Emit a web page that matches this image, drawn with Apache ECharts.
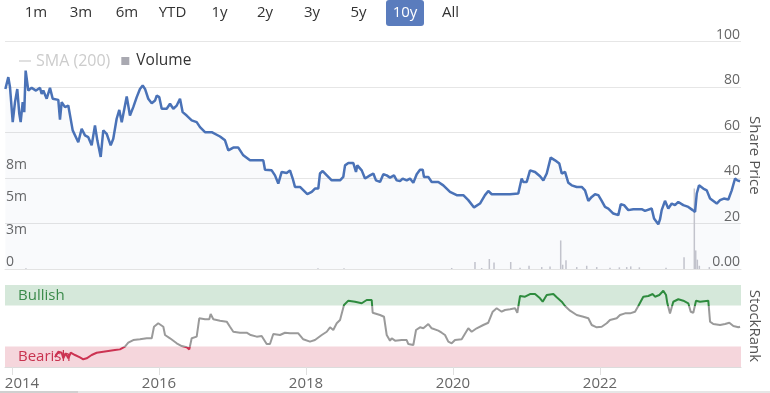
<!DOCTYPE html>
<html><head><meta charset="utf-8">
<script src="https://cdn.jsdelivr.net/npm/echarts@6/dist/echarts.min.js"></script>
<style>html,body{margin:0;padding:0;background:#fff}#c{width:770px;height:393px}</style>
</head><body><div id="c"></div>
<script>
// ---- data (dates as decimal years) ----
const windowStart = 2013.905;
const windowEnd = 2023.918;
const yearTicks = [2014, 2016, 2018, 2020, 2022];
const rangeButtons = ['1m','3m','6m','YTD','1y','2y','3y','5y','10y','All'];
const activeRange = '10y';

const priceDates = [2013.91,2013.95,2013.973,2014.01,2014.041,2014.072,2014.099,2014.118,2014.146,2014.167,2014.186,2014.222,2014.268,2014.327,2014.381,2014.404,2014.426,2014.472,2014.517,2014.554,2014.63,2014.653,2014.676,2014.721,2014.766,2014.826,2014.902,2014.948,2014.993,2015.038,2015.084,2015.129,2015.161,2015.207,2015.242,2015.288,2015.31,2015.343,2015.378,2015.424,2015.46,2015.493,2015.561,2015.605,2015.65,2015.697,2015.741,2015.778,2015.81,2015.854,2015.901,2015.946,2015.969,2016.004,2016.037,2016.105,2016.15,2016.195,2016.241,2016.286,2016.322,2016.377,2016.445,2016.513,2016.558,2016.626,2016.717,2016.83,2016.898,2016.943,2017.011,2017.079,2017.147,2017.238,2017.374,2017.419,2017.442,2017.533,2017.578,2017.623,2017.669,2017.737,2017.782,2017.819,2017.85,2017.918,2018.018,2018.078,2018.122,2018.167,2018.19,2018.227,2018.35,2018.463,2018.507,2018.531,2018.576,2018.644,2018.68,2018.698,2018.758,2018.803,2018.871,2018.916,2018.952,2019.007,2019.052,2019.098,2019.143,2019.197,2019.234,2019.279,2019.315,2019.37,2019.415,2019.46,2019.506,2019.551,2019.588,2019.605,2019.664,2019.71,2019.8,2019.868,2019.959,2020.05,2020.14,2020.208,2020.286,2020.367,2020.435,2020.48,2020.527,2020.776,2020.888,2020.934,2020.956,2021.003,2021.048,2021.116,2021.184,2021.229,2021.275,2021.329,2021.388,2021.446,2021.479,2021.524,2021.569,2021.615,2021.683,2021.751,2021.796,2021.841,2021.887,2021.932,2021.977,2022.023,2022.068,2022.113,2022.181,2022.249,2022.282,2022.327,2022.385,2022.453,2022.567,2022.612,2022.703,2022.735,2022.793,2022.816,2022.839,2022.884,2022.929,2022.976,2023.02,2023.065,2023.133,2023.201,2023.261,2023.293,2023.316,2023.347,2023.405,2023.452,2023.497,2023.588,2023.633,2023.684,2023.746,2023.792,2023.837,2023.868,2023.905];
const priceValues = [79.2,84.4,80.0,64.6,73.4,79.2,68.4,64.6,73.4,69.0,87.3,78.5,79.7,78.5,79.7,77.0,78.5,74.9,79.7,74.9,74.4,65.7,73.4,71.2,71.9,61.0,55.8,61.7,58.8,58.0,54.4,63.2,56.6,49.3,61.0,59.5,60.2,54.4,57.3,66.1,70.0,64.6,75.9,67.5,71.2,75.6,79.2,80.7,79.2,74.9,72.9,74.1,76.3,75.6,70.5,70.5,72.7,70.5,71.9,74.9,69.0,67.5,65.4,64.6,62.4,60.2,60.2,58.3,56.6,52.2,53.4,53.4,50.0,47.8,47.8,47.8,43.7,43.4,41.2,37.6,42.7,42.2,43.4,39.8,36.1,36.1,32.9,33.9,35.4,35.4,42.0,43.1,39.0,39.0,40.5,45.6,46.6,46.6,42.7,45.6,43.4,39.8,41.2,42.0,39.0,38.3,41.7,41.2,40.2,41.2,39.0,38.7,39.8,39.0,39.8,37.9,41.7,43.7,43.7,40.5,40.5,38.3,38.3,36.8,33.9,32.5,32.5,30.3,27.1,28.8,32.5,34.3,32.9,32.9,33.2,39.8,38.3,38.3,43.4,42.7,40.8,39.0,42.0,49.0,47.8,46.4,42.0,42.7,37.9,36.8,36.1,36.1,34.6,30.0,31.7,32.9,32.5,30.0,27.3,26.6,24.4,23.7,28.5,28.1,25.9,26.3,26.3,25.6,26.6,22.2,19.7,21.8,25.9,30.0,26.6,28.8,28.1,29.5,28.1,27.3,25.9,25.1,33.2,36.8,35.4,34.6,31.0,28.8,30.3,31.0,30.6,34.6,39.8,39.0,38.6];

const rankDates = [2014.585,2014.63,2014.676,2014.698,2014.731,2014.766,2014.799,2014.857,2014.925,2014.97,2015.016,2015.084,2015.152,2015.242,2015.333,2015.401,2015.469,2015.537,2015.582,2015.65,2015.741,2015.833,2015.901,2015.932,2015.99,2016.059,2016.082,2016.15,2016.241,2016.309,2016.377,2016.412,2016.445,2016.513,2016.548,2016.626,2016.684,2016.703,2016.739,2016.83,2016.921,2016.966,2017.011,2017.102,2017.193,2017.248,2017.329,2017.397,2017.465,2017.51,2017.555,2017.646,2017.714,2017.782,2017.895,2017.963,2018.054,2018.122,2018.214,2018.282,2018.327,2018.371,2018.418,2018.463,2018.517,2018.576,2018.667,2018.758,2018.826,2018.894,2018.907,2019.007,2019.061,2019.098,2019.143,2019.166,2019.211,2019.302,2019.37,2019.392,2019.46,2019.497,2019.551,2019.596,2019.664,2019.71,2019.8,2019.846,2019.891,2019.936,2019.982,2020.027,2020.118,2020.208,2020.254,2020.322,2020.412,2020.48,2020.503,2020.54,2020.594,2020.662,2020.707,2020.776,2020.844,2020.875,2020.912,2020.98,2021.048,2021.116,2021.184,2021.22,2021.275,2021.365,2021.411,2021.479,2021.524,2021.592,2021.683,2021.773,2021.841,2021.887,2021.955,2022.023,2022.091,2022.136,2022.227,2022.272,2022.34,2022.408,2022.476,2022.521,2022.589,2022.657,2022.717,2022.748,2022.807,2022.861,2022.898,2022.916,2022.952,2022.997,2023.065,2023.133,2023.201,2023.234,2023.269,2023.306,2023.361,2023.473,2023.497,2023.541,2023.633,2023.701,2023.759,2023.814,2023.882,2023.905];
const rankValues = [11.8,18.7,17.4,10.6,16.7,10.6,17.4,14.6,11.8,9.4,10.6,14.6,17.4,18.7,19.9,20.7,21.5,24.8,29.6,32.9,33.8,35.0,35.0,49.1,53.3,49.1,39.0,35.0,28.9,25.6,24.0,21.5,35.0,37.0,59.4,58.2,58.2,64.6,58.2,56.5,55.3,49.1,43.0,41.8,41.8,39.0,37.0,37.8,28.0,28.0,40.2,39.0,41.8,41.1,41.1,33.8,30.9,32.9,39.0,43.0,48.4,45.1,53.3,57.3,75.6,80.9,79.6,77.7,81.7,81.7,66.2,63.4,61.3,39.0,32.1,35.0,32.1,32.9,32.9,28.0,26.8,45.1,48.4,47.2,52.4,47.2,44.3,41.8,39.0,30.9,28.9,32.9,33.8,47.2,43.0,47.2,51.2,54.0,55.3,67.4,71.6,67.4,69.5,70.4,71.6,66.2,86.6,85.7,89.0,89.0,83.8,79.6,87.8,89.0,85.0,79.6,74.4,68.7,63.4,61.3,59.4,51.2,48.4,49.1,53.3,57.3,59.4,63.4,65.4,65.4,67.4,74.4,85.7,86.6,89.0,85.7,87.8,93.0,87.8,77.7,65.4,79.6,82.6,80.9,77.7,67.4,66.2,80.9,79.6,80.9,55.3,52.4,51.2,52.4,54.0,50.0,48.4,49.1];

const volumeDates = [2014.19,2018.163,2018.517,2019.982,2020.299,2020.39,2020.494,2020.558,2020.785,2020.912,2021.034,2021.207,2021.32,2021.465,2021.492,2021.537,2021.683,2021.819,2021.955,2022.136,2022.263,2022.363,2022.418,2022.535,2022.898,2023.143,2023.283,2023.302,2023.324,2023.351,2023.487];
const volumeValues = [0.05,0.05,0.05,0.08,0.54,0.08,0.77,0.5,0.54,0.1,0.25,0.15,0.2,2.2,0.33,0.67,0.15,0.25,0.15,0.1,0.13,0.15,0.2,0.13,0.1,0.9,6.2,1.43,0.72,0.25,0.15]; // millions

// ---- chart ----
const FONT = '"Open Sans", sans-serif';
const zip = (a, b) => a.map((d, i) => [d, b[i]]);
const chart = echarts.init(document.getElementById('c'), null, {renderer: 'canvas'});

const buttonCenters = [36, 81, 127, 172.5, 219.5, 265, 312, 358.5, 405, 450.5];
const graphics = [];
rangeButtons.forEach((b, i) => {
  const active = b === activeRange;
  if (active) {
    graphics.push({type: 'rect', left: buttonCenters[i] - 19, top: 0,
      shape: {width: 38, height: 26, r: 3}, style: {fill: '#5a7cbd'}, z: 10});
  }
  graphics.push({type: 'text', z: 11, style: {
    text: b, x: buttonCenters[i], y: 13, align: 'center', verticalAlign: 'middle',
    fill: active ? '#ffffff' : '#333333', font: '15px ' + FONT}});
});
graphics.push({type: 'rect', left: 0, top: 391, shape: {width: 770, height: 2}, style: {fill: '#e6e6e6'}});
graphics.push({type: 'rect', left: 0, top: 391, shape: {width: 78, height: 2}, style: {fill: '#d0d0d0'}});

const option = {
  animation: false,
  textStyle: {fontFamily: FONT},
  graphic: graphics,
  legend: {
    left: 14, top: 48, itemWidth: 12, itemHeight: 8, itemGap: 11,
    textStyle: {fontSize: 15.5, color: '#333', fontFamily: FONT},
    inactiveColor: '#cccccc',
    selected: {'SMA (200)': false},
    data: [
      {name: 'SMA (200)', icon: 'path://M0,0H10V1H0Z', textStyle: {fontSize: 16}},
      {name: 'Volume', icon: 'path://M0,0H1V1H0Z', itemStyle: {color: '#a9a9b1'}}
    ]
  },
  grid: [
    {left: 5, right: 29, top: 41.7, height: 227.3, outerBoundsMode: 'none'},
    {left: 5, right: 29, top: 285, height: 82, outerBoundsMode: 'none'}
  ],
  xAxis: [
    {type: 'value', gridIndex: 0, min: windowStart, max: windowEnd,
     axisLine: {show: true, onZero: false, lineStyle: {color: '#e3e3e3'}},
     axisTick: {show: false}, axisLabel: {show: false}, splitLine: {show: false}},
    {type: 'value', gridIndex: 1, min: windowStart, max: windowEnd,
     axisLine: {show: true, onZero: false, lineStyle: {color: '#dcdcdc'}},
     axisTick: {show: true, customValues: yearTicks, length: 8, lineStyle: {color: '#e0e0e0'}},
     axisLabel: {customValues: yearTicks, margin: 9, fontSize: 15, color: '#666', fontFamily: FONT,
       formatter: v => Math.round(v) === yearTicks[0] ? '{f|' + Math.round(v) + '}' : String(Math.round(v)),
       rich: {f: {fontSize: 15, color: '#666', fontFamily: FONT, padding: [0, 0, 0, 20]}}},
     splitLine: {show: false}}
  ],
  yAxis: [
    {type: 'value', gridIndex: 0, position: 'right', min: 0, max: 100, interval: 20,
     name: 'Share Price', nameLocation: 'middle', nameRotate: -90, nameGap: 6, nameMoveOverlap: false,
     nameTextStyle: {fontSize: 15, color: '#555', fontFamily: FONT},
     axisLine: {show: false}, axisTick: {show: false},
     axisLabel: {inside: true, margin: 1, fontSize: 14, color: '#666', verticalAlign: 'bottom', fontFamily: FONT,
       formatter: v => v === 0 ? '0.00' : String(v)},
     splitLine: {show: true, lineStyle: {color: '#e6e6e6'}}},
    {type: 'value', gridIndex: 0, position: 'left', min: 0, max: 17.5, interval: 2.5,
     axisLine: {show: false}, axisTick: {show: false},
     axisLabel: {inside: true, margin: 1, fontSize: 14, color: '#666', verticalAlign: 'bottom', fontFamily: FONT,
       formatter: v => v > 7.6 ? '' : (v === 0 ? '0' : Math.round(v) + 'm')},
     splitLine: {show: false}},
    {type: 'value', gridIndex: 1, position: 'right', min: 0, max: 100, interval: 100,
     name: 'StockRank', nameLocation: 'middle', nameRotate: -90, nameGap: 6, nameMoveOverlap: false,
     nameTextStyle: {fontSize: 15, color: '#555', fontFamily: FONT},
     axisLine: {show: false}, axisTick: {show: false},
     axisLabel: {inside: true, margin: 3, fontSize: 14, color: '#666', verticalAlign: 'bottom', fontFamily: FONT,
       formatter: v => v === 0 ? '0' : ''},
     splitLine: {show: true, lineStyle: {color: '#e6e6e6'}}}
  ],
  visualMap: {
    type: 'piecewise', show: false, seriesIndex: 3, dimension: 1,
    pieces: [
      {lt: 25, color: '#cc3352'},
      {gte: 25, lte: 75, color: '#9a9a9a'},
      {gt: 75, color: '#2e8b3e'}
    ]
  },
  series: [
    {name: 'Volume', type: 'bar', xAxisIndex: 0, yAxisIndex: 1, barWidth: 1.5,
     data: zip(volumeDates, volumeValues), itemStyle: {color: '#c6c6ce'}, silent: true},
    {name: 'Share Price', type: 'line', xAxisIndex: 0, yAxisIndex: 0, showSymbol: false,
     data: zip(priceDates, priceValues),
     lineStyle: {color: '#4a72b7', width: 2.5}, itemStyle: {color: '#4a72b7'},
     areaStyle: {color: 'rgba(74,114,183,0.05)'}},
    {name: 'SMA (200)', type: 'line', xAxisIndex: 0, yAxisIndex: 0, showSymbol: false,
     data: [], itemStyle: {color: '#cccccc'}, lineStyle: {color: '#cccccc'}},
    {name: 'StockRank', type: 'line', xAxisIndex: 1, yAxisIndex: 2, showSymbol: false,
     data: zip(rankDates, rankValues), lineStyle: {width: 2},
     markArea: {
       silent: true,
       label: {show: true, position: 'insideLeft', distance: 13, fontSize: 15, fontFamily: FONT},
       data: [
         [{name: 'Bullish', yAxis: 75, itemStyle: {color: '#d5e8da', opacity: 1}, label: {color: '#3a8a4a'}}, {yAxis: 100}],
         [{name: 'Bearish', yAxis: 0, itemStyle: {color: '#f5d6dc', opacity: 1}, label: {color: '#c8334f'}}, {yAxis: 25}]
       ]
     }}
  ]
};
chart.setOption(option);
</script>
</body></html>
